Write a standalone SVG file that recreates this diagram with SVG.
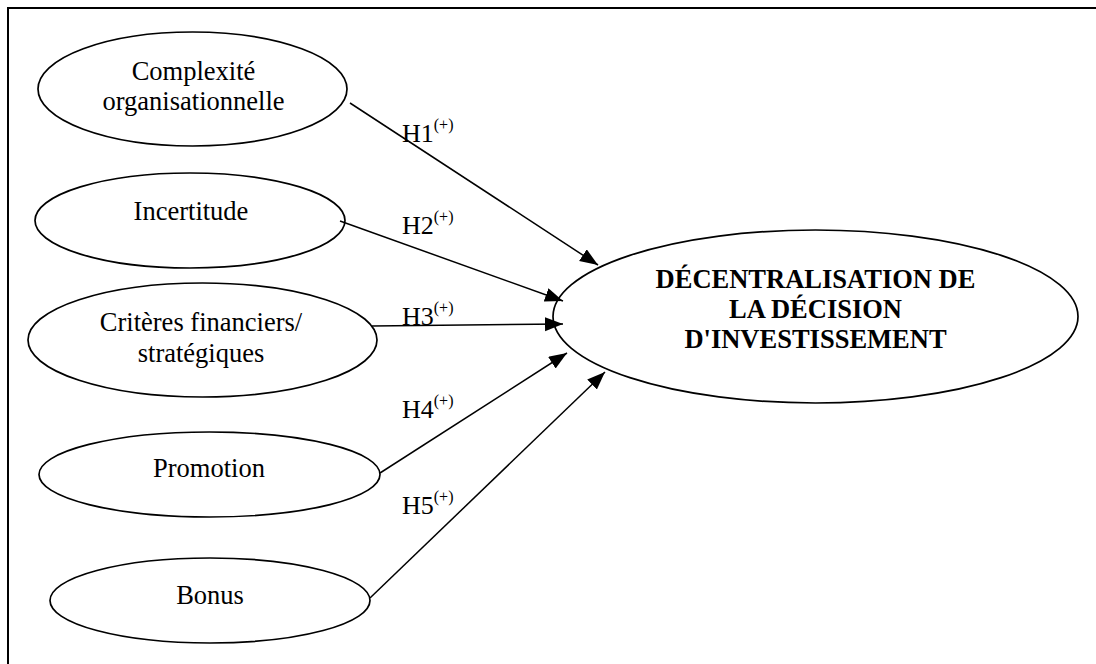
<svg xmlns="http://www.w3.org/2000/svg" width="1096" height="664" viewBox="0 0 1096 664">
<style>
.n{fill:#fff;stroke:#000;stroke-width:1.7}
.t{font-family:"Liberation Serif","Times New Roman",serif;font-size:26.5px;fill:#000;text-anchor:middle}
.b{font-weight:bold}
.l{font-family:"Liberation Serif","Times New Roman",serif;font-size:26px;fill:#000}
.s{font-size:16px}
.c{stroke:#000;stroke-width:1.5;fill:none;marker-end:url(#ah)}
</style>
<defs>
<marker id="ah" markerUnits="userSpaceOnUse" markerWidth="20" markerHeight="16" refX="18" refY="7" orient="auto">
<path d="M0,0 L18,7 L0,14 z" fill="#000"/>
</marker>
</defs>
<rect width="1096" height="664" fill="#fff"/>
<path d="M8,664 V8 H1096" fill="none" stroke="#000" stroke-width="2"/>
<g id="n1"><ellipse class="n" cx="192.5" cy="89" rx="154.5" ry="57"/><text class="t" x="193.5" y="80">Complexité</text><text class="t" x="193.5" y="110">organisationnelle</text></g>
<g id="n2"><ellipse class="n" cx="190" cy="220.5" rx="155" ry="47.5"/><text class="t" x="191" y="220">Incertitude</text></g>
<g id="n3"><ellipse class="n" cx="202.5" cy="340" rx="174.5" ry="57"/><text class="t" x="201" y="331">Critères financiers/</text><text class="t" x="201" y="362">stratégiques</text></g>
<g id="n4"><ellipse class="n" cx="209.5" cy="474.5" rx="170.5" ry="42.5"/><text class="t" x="209" y="477">Promotion</text></g>
<g id="n5"><ellipse class="n" cx="210" cy="600.5" rx="160" ry="42.5"/><text class="t" x="210" y="604">Bonus</text></g>
<g id="n6"><ellipse class="n" cx="815.5" cy="316.5" rx="262.5" ry="86.5"/><text class="t b" x="815.5" y="288">DÉCENTRALISATION DE</text><text class="t b" x="815.5" y="318">LA DÉCISION</text><text class="t b" x="815.5" y="348">D'INVESTISSEMENT</text></g>
<g id="labels">
<text class="l" x="402" y="142">H1<tspan class="s" dy="-12">(+)</tspan></text>
<text class="l" x="402" y="234">H2<tspan class="s" dy="-12">(+)</tspan></text>
<text class="l" x="402" y="325">H3<tspan class="s" dy="-12">(+)</tspan></text>
<text class="l" x="402" y="418">H4<tspan class="s" dy="-12">(+)</tspan></text>
<text class="l" x="402" y="514">H5<tspan class="s" dy="-12">(+)</tspan></text>
</g>
<g id="connectors">
<line class="c" x1="350" y1="103" x2="598" y2="265"/>
<line class="c" x1="340" y1="221" x2="563" y2="301"/>
<line class="c" x1="372" y1="326" x2="563" y2="324"/>
<line class="c" x1="380" y1="473" x2="567" y2="353"/>
<line class="c" x1="370" y1="598" x2="605" y2="372"/>
</g>
</svg>
